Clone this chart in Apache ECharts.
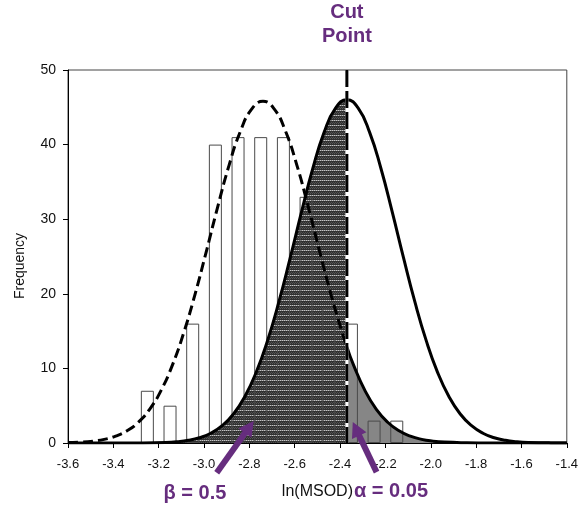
<!DOCTYPE html>
<html>
<head>
<meta charset="utf-8">
<script src="https://cdn.jsdelivr.net/npm/echarts@6/dist/echarts.min.js"></script>
<style>
  html, body { margin: 0; padding: 0; background: #ffffff; }
  #chart { width: 581px; height: 508px; }
</style>
</head>
<body>
<div id="chart"></div>
<script>
// Histogram of ln(MSOD): bin centres and counts
const binCenters = [-3.25, -3.15, -3.05, -2.95, -2.85, -2.75, -2.65, -2.55, -2.45, -2.35, -2.25, -2.15];
const binCounts  = [7, 5, 16, 40, 41, 41, 41, 33, 18, 16, 3, 3];

// Fitted curve for the observed distribution (dashed)
const nullX = [-3.6, -3.54, -3.49, -3.44, -3.39, -3.34, -3.29, -3.24, -3.19, -3.14, -3.09, -3.04, -2.99, -2.94, -2.89, -2.84, -2.79, -2.74,
               -2.69, -2.64, -2.59, -2.54, -2.49, -2.44, -2.39, -2.37, -2.34, -2.29, -2.24, -2.19, -2.14, -2.09, -2.04, -1.99, -1.94, -1.84, -1.74, -1.4];
const nullY = [0.06, 0.12, 0.25, 0.49, 0.92, 1.63, 2.78, 4.52, 7.02, 10.41, 14.73, 19.9, 25.67, 31.62, 37.19, 41.75, 44.75, 45.8,
               44.75, 41.75, 37.19, 31.62, 25.67, 19.9, 14.73, 12.89, 10.41, 7.02, 4.52, 2.78, 1.63, 0.92, 0.49, 0.25, 0.12, 0.03, 0.0, 0.0];

// Shifted curve centred on the cut point (solid)
const altX = [-3.6, -3.37, -3.27, -3.17, -3.12, -3.07, -3.02, -2.97, -2.92, -2.87, -2.82, -2.77, -2.72, -2.67, -2.62, -2.57, -2.52, -2.47, -2.42, -2.37,
              -2.32, -2.27, -2.22, -2.17, -2.12, -2.07, -2.02, -1.97, -1.92, -1.87, -1.82, -1.77, -1.72, -1.67, -1.62, -1.57, -1.47, -1.4];
const altY = [0.0, 0.002, 0.015, 0.083, 0.18, 0.36, 0.71, 1.31, 2.32, 3.89, 6.23, 9.47, 13.72, 18.91, 24.81, 30.99, 36.83, 41.67, 44.88, 46.0,
              44.88, 41.67, 36.83, 30.99, 24.81, 18.91, 13.72, 9.47, 6.23, 3.89, 2.32, 1.31, 0.71, 0.36, 0.18, 0.083, 0.015, 0.004];

const cutPoint = -2.37;

// Axis ranges and ticks
const xMin = -3.6, xMax = -1.4, xStep = 0.2;
const yMin = 0, yMax = 50, yStep = 10;

// Annotation texts
const cutText = 'Cut\nPoint';
const betaText = 'β = 0.5';
const alphaText = 'α = 0.05';
const xTitle = 'ln(MSOD)';
const yTitle = 'Frequency';

// Arrow anchors (axis units): tail below the axis, head inside the shaded areas
const betaArrow  = { from: [-2.944, -4.0], to: [-2.781, 2.95] };
const alphaArrow = { from: [-2.239, -3.9], to: [-2.344, 2.8] };

const purple = '#662d7e';

function pairs(xs, ys) { return xs.map((x, i) => [x, ys[i]]); }
const nullPts = pairs(nullX, nullY);
const altPts = pairs(altX, altY);
const barPts = pairs(binCenters, binCounts);

// Dotted texture with light horizontal rows for the beta region
function makeTexture() {
  const c = document.createElement('canvas');
  c.width = 4; c.height = 5;
  const g = c.getContext('2d');
  g.fillStyle = '#303030'; g.fillRect(0, 0, 4, 5);
  g.fillStyle = '#c4c4c4'; g.fillRect(0, 0, 1, 1); g.fillRect(2, 0, 1, 1);
  g.fillStyle = '#7a7a7a'; g.fillRect(1, 0, 1, 1); g.fillRect(3, 0, 1, 1);
  g.fillStyle = '#505050'; g.fillRect(1, 2, 1, 1); g.fillRect(3, 2, 1, 1);
  g.fillStyle = '#585858'; g.fillRect(0, 3, 1, 1); g.fillRect(2, 3, 1, 1);
  return c;
}

const chart = echarts.init(document.getElementById('chart'), null, { renderer: 'canvas' });
const font = '"Liberation Sans", Arial, sans-serif';

const option = {
  animation: false,
  backgroundColor: '#ffffff',
  grid: { left: 68, right: 14, top: 70, bottom: 65, show: true, borderColor: '#444', borderWidth: 1 },
  xAxis: {
    type: 'value', min: xMin, max: xMax, interval: xStep,
    name: xTitle, nameLocation: 'middle', nameGap: 41,
    nameTextStyle: { fontFamily: font, fontSize: 16, color: '#111' },
    axisLine: { lineStyle: { color: '#000', width: 1 } },
    axisTick: { show: true, length: 5, lineStyle: { color: '#000' } },
    axisLabel: { formatter: v => v.toFixed(1), fontFamily: font, fontSize: 13, color: '#111', margin: 15 },
    splitLine: { show: false }
  },
  yAxis: {
    type: 'value', min: yMin, max: yMax, interval: yStep,
    axisLine: { show: true, lineStyle: { color: '#000', width: 1 } },
    axisTick: { show: true, length: 5, lineStyle: { color: '#000' } },
    axisLabel: { fontFamily: font, fontSize: 14, color: '#111', margin: 12 },
    splitLine: { show: false }
  },
  series: [
    { // beta area under the shifted curve, left of the cut
      type: 'line', data: altPts.filter(p => p[0] <= cutPoint), smooth: true, showSymbol: false,
      lineStyle: { width: 0 }, areaStyle: { color: { image: makeTexture(), repeat: 'repeat' }, opacity: 1 }, z: 1, silent: true
    },
    { // alpha area under the observed curve, right of the cut
      type: 'line', data: nullPts.filter(p => p[0] >= cutPoint), smooth: true, showSymbol: false,
      lineStyle: { width: 0 }, areaStyle: { color: '#868686', opacity: 1 }, z: 1, silent: true
    },
    { // histogram
      type: 'bar', data: barPts, barWidth: 13,
      itemStyle: { color: 'rgba(255,255,255,0)', borderColor: '#4a4a4a', borderWidth: 1 }, z: 2, silent: true
    },
    { // observed fit, dashed left of the cut
      type: 'line', data: nullPts.filter(p => p[0] <= cutPoint), smooth: true, showSymbol: false,
      lineStyle: { color: '#000', width: 3, type: [10, 5] }, z: 3, silent: true
    },
    { // observed fit, solid edge of the alpha area
      type: 'line', data: nullPts.filter(p => p[0] >= cutPoint), smooth: true, showSymbol: false,
      lineStyle: { color: '#000', width: 3 }, z: 3, silent: true
    },
    { // shifted curve
      type: 'line', data: altPts, smooth: true, showSymbol: false,
      lineStyle: { color: '#000', width: 3 }, z: 3, silent: true
    },
    { // white backing so the cut line's gaps read as blank
      type: 'line', data: [[cutPoint, yMax], [cutPoint, yMin]], showSymbol: false,
      lineStyle: { color: '#ffffff', width: 3 }, z: 4, silent: true
    },
    { // cut point line
      type: 'line', data: [[cutPoint, yMax], [cutPoint, yMin]], showSymbol: false,
      lineStyle: { color: '#000', width: 3, type: [17, 4] }, z: 5, silent: true
    }
  ]
};
chart.setOption(option);

function arrowGraphics(a) {
  const t = chart.convertToPixel({ gridIndex: 0 }, a.from);
  const h = chart.convertToPixel({ gridIndex: 0 }, a.to);
  const dx = h[0] - t[0], dy = h[1] - t[1];
  const len = Math.hypot(dx, dy);
  const ux = dx / len, uy = dy / len;
  const nx = -uy, ny = ux;
  const headLen = 15, headHalf = 8;
  const bx = h[0] - ux * headLen, by = h[1] - uy * headLen;
  return [
    { type: 'line', shape: { x1: t[0], y1: t[1], x2: bx + ux * 2, y2: by + uy * 2 },
      style: { stroke: purple, lineWidth: 6 }, z: 100 },
    { type: 'polygon', shape: { points: [[h[0], h[1]], [bx + nx * headHalf, by + ny * headHalf], [bx - nx * headHalf, by - ny * headHalf]] },
      style: { fill: purple }, z: 100 }
  ];
}

const cutPx = chart.convertToPixel({ gridIndex: 0 }, [cutPoint, yMax]);
const labelFont = 'bold 20px "Liberation Sans", Arial, sans-serif';

chart.setOption({
  graphic: [
    ...arrowGraphics(betaArrow),
    ...arrowGraphics(alphaArrow),
    { type: 'text', x: cutPx[0], y: 24, z: 100,
      style: { text: cutText, font: labelFont, fill: purple, align: 'center', verticalAlign: 'middle', lineHeight: 24 } },
    { type: 'text', x: 195, y: 493, z: 100,
      style: { text: betaText, font: labelFont, fill: purple, align: 'center', verticalAlign: 'middle' } },
    { type: 'text', x: 391, y: 491, z: 100,
      style: { text: alphaText, font: labelFont, fill: purple, align: 'center', verticalAlign: 'middle' } },
    { type: 'text', x: 20, y: 266, rotation: Math.PI / 2, z: 100,
      style: { text: yTitle, font: '14px "Liberation Sans", Arial, sans-serif', fill: '#111', align: 'center', verticalAlign: 'middle' } }
  ]
});
</script>
</body>
</html>
